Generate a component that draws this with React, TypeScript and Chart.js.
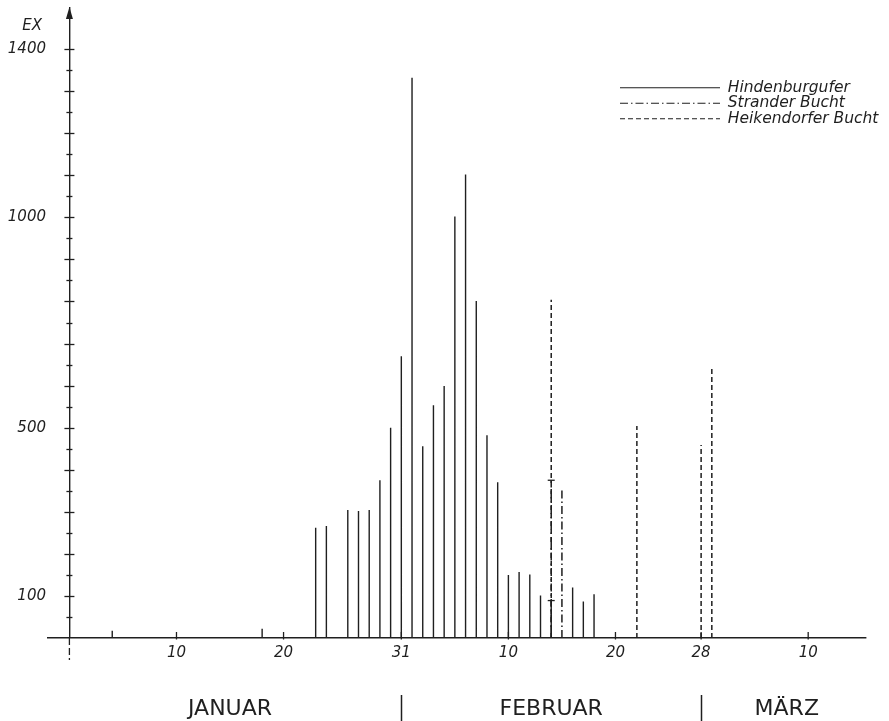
import React, { useEffect, useRef } from "react";
import { Chart, registerables } from "chart.js";

Chart.register(...registerables);

// ---- data (day number counted from 1 January) ----
const hindenburgDays = [4, 18, 23, 24, 26, 27, 28, 29, 30, 31, 32, 33, 34, 35, 36, 37, 38, 39, 40, 41, 42, 43, 44, 45, 47, 48, 49];
const hindenburgValues = [17, 22, 262, 266, 304, 302, 304, 375, 500, 670, 1332, 456, 553, 599, 1002, 1102, 801, 482, 370, 150, 157, 151, 101, 89, 120, 87, 104];
const stranderDays = [45, 46];
const stranderValues = [375, 352];
const heikendorferDays = [45, 53, 59, 60];
const heikendorferValues = [804, 504, 459, 646];

const seriesNames = ["Hindenburgufer", "Strander Bucht", "Heikendorfer Bucht"];

// x axis tick positions (day numbers) and their labels
const xTickDays = [10, 20, 31, 41, 51, 59, 69];
const xTickLabels = ["10", "20", "31", "10", "20", "28", "10"];
// months
const monthNames = ["JANUAR", "FEBRUAR", "MÄRZ"];
const monthCenters = [15, 45, 67];
const monthEnds = [31, 59];
// y axis
const yLabelValues = [100, 500, 1000, 1400];
const yTickStep = 50;
const yTickMax = 1400;
const yTitle = "EX";

const INK = "#1f1f1f";
const FONT = '"DejaVu Sans", "Liberation Sans", sans-serif';

function spikes(days: number[], values: number[]) {
  const out: { x: number; y: number | null }[] = [];
  days.forEach((d, i) => {
    out.push({ x: d, y: 0 }, { x: d, y: values[i] }, { x: d, y: null });
  });
  return out;
}

function overlapMarks() {
  const marks: { x: number; y: number }[] = [];
  hindenburgDays.forEach((d, i) => {
    if (stranderDays.includes(d) || heikendorferDays.includes(d)) marks.push({ x: d, y: hindenburgValues[i] });
  });
  stranderDays.forEach((d, i) => {
    if (heikendorferDays.includes(d)) marks.push({ x: d, y: stranderValues[i] });
  });
  return marks;
}

const decorPlugin = {
  id: "decor",
  afterLayout(chart: any) {
    const lg = chart.legend;
    const ca = chart.chartArea;
    if (lg && ca) {
      const w = lg.width;
      lg.left = ca.right - 246;
      lg.right = lg.left + w;
      lg.top = ca.top + 73;
    }
  },
  afterDraw(chart: any) {
    const { ctx, scales } = chart;
    const x = scales.x;
    const y = scales.y;
    const x0 = x.getPixelForValue(0);
    const yb = y.getPixelForValue(0);
    const ytop = chart.chartArea.top;
    ctx.save();
    ctx.strokeStyle = INK;
    ctx.fillStyle = INK;
    ctx.lineWidth = 1.3;
    // arrow head
    ctx.beginPath();
    ctx.moveTo(x0, ytop);
    ctx.lineTo(x0 - 3.5, ytop + 12);
    ctx.lineTo(x0 + 3.5, ytop + 12);
    ctx.closePath();
    ctx.fill();
    // y tick marks crossing the axis
    y.ticks.forEach((t: any) => {
      if (t.value <= 0) return;
      const py = Math.round(y.getPixelForValue(t.value)) + 0.5;
      const h = t.value % 100 === 0 ? 5 : 3;
      ctx.beginPath();
      ctx.moveTo(x0 - h, py);
      ctx.lineTo(x0 + h, py);
      ctx.stroke();
    });
    // x tick marks
    x.ticks.forEach((t: any) => {
      if (t.value === 0) return;
      const px = x.getPixelForValue(t.value);
      ctx.beginPath();
      ctx.moveTo(px, yb - 6);
      ctx.lineTo(px, yb + 1.5);
      ctx.stroke();
    });
    // dashed extension of the y axis below the origin
    ctx.setLineDash([7, 3]);
    ctx.beginPath();
    ctx.moveTo(x0, yb);
    ctx.lineTo(x0, yb + 22);
    ctx.stroke();
    ctx.setLineDash([]);
    // axis title
    ctx.font = `italic 300 15px ${FONT}`;
    ctx.textAlign = "right";
    ctx.textBaseline = "middle";
    ctx.fillText(yTitle, chart.chartArea.left - 6, ytop + 19);
    ctx.restore();
  },
};

export default function App() {
  const ref = useRef<HTMLCanvasElement | null>(null);

  useEffect(() => {
    if (!ref.current) return;
    const tickFont = { family: FONT, size: 15, style: "italic" as const, weight: "300" as any };
    const chart = new Chart(ref.current, {
      type: "line",
      data: {
        datasets: [
          {
            label: seriesNames[0],
            data: spikes(hindenburgDays, hindenburgValues) as any,
            borderColor: INK,
            backgroundColor: "rgba(0,0,0,0)",
            borderWidth: 1.4,
            borderDash: [],
            pointRadius: 0,
            spanGaps: false,
          },
          {
            label: seriesNames[1],
            data: spikes(stranderDays, stranderValues) as any,
            borderColor: INK,
            backgroundColor: "rgba(0,0,0,0)",
            borderWidth: 1.5,
            borderDash: [8, 3, 1.5, 3],
            pointRadius: 0,
            spanGaps: false,
          },
          {
            label: seriesNames[2],
            data: spikes(heikendorferDays, heikendorferValues) as any,
            borderColor: INK,
            backgroundColor: "rgba(0,0,0,0)",
            borderWidth: 1.5,
            borderDash: [5, 3],
            pointRadius: 0,
            spanGaps: false,
          },
          {
            label: "",
            type: "scatter" as any,
            data: overlapMarks() as any,
            borderColor: INK,
            backgroundColor: INK,
            borderWidth: 1.3,
            pointStyle: "line",
            pointRadius: 3.5,
            showLine: false,
          } as any,
        ],
      },
      options: {
        responsive: false,
        devicePixelRatio: 1,
        animation: false,
        events: [],
        layout: { padding: { left: 8, right: 23, top: 7, bottom: 0 } },
        plugins: {
          tooltip: { enabled: false },
          legend: {
            position: "chartArea" as any,
            align: "start",
            labels: {
              usePointStyle: true,
              pointStyle: "line",
              pointStyleWidth: 100,
              padding: 0,
              color: INK,
              font: { family: FONT, size: 15.5, style: "italic", weight: "300" as any },
              filter: (item: any) => !!item.text,
              generateLabels: (chart: any) => {
                const base = (Chart.defaults as any).plugins.legend.labels.generateLabels(chart);
                return base.map((item: any) => {
                  const ds: any = chart.data.datasets[item.datasetIndex];
                  return {
                    ...item,
                    lineDash: ds.borderDash || [],
                    lineWidth: 1.2,
                    strokeStyle: ds.borderColor,
                    fillStyle: "rgba(0,0,0,0)",
                    pointStyle: "line",
                  };
                });
              },
            },
          },
        },
        scales: {
          x: {
            type: "linear",
            position: "bottom",
            weight: 0,
            min: -2,
            max: 74.4,
            afterBuildTicks: (s: any) => {
              s.ticks = [0, ...xTickDays].map((v) => ({ value: v }));
            },
            afterFit: (s: any) => {
              s.height = 57;
              s.paddingLeft = 0;
              s.paddingRight = 0;
            },
            grid: {
              drawOnChartArea: true,
              drawTicks: false,
              lineWidth: 1.4,
              color: (c: any) => (c.tick && c.tick.value === 0 ? INK : "rgba(0,0,0,0)"),
            },
            border: { display: true, color: INK, width: 1.4 },
            ticks: {
              autoSkip: false,
              maxRotation: 0,
              padding: 6,
              color: INK,
              font: tickFont,
              callback: (v: any) => {
                const i = xTickDays.indexOf(Number(v));
                return i >= 0 ? xTickLabels[i] : "";
              },
            },
          },
          x2: {
            type: "linear",
            position: "bottom",
            weight: 1,
            min: -2,
            max: 74.4,
            afterBuildTicks: (s: any) => {
              s.ticks = [...monthCenters, ...monthEnds].sort((a, b) => a - b).map((v) => ({ value: v }));
            },
            afterFit: (s: any) => {
              s.height = 26;
              s.paddingLeft = 0;
              s.paddingRight = 0;
            },
            border: { display: false },
            grid: {
              drawOnChartArea: false,
              drawTicks: true,
              tickLength: 26,
              tickWidth: 1.5,
              color: "rgba(0,0,0,0)",
              tickColor: (c: any) => (c.tick && monthEnds.includes(c.tick.value) ? INK : "rgba(0,0,0,0)"),
            },
            ticks: {
              autoSkip: false,
              maxRotation: 0,
              padding: -25,
              color: INK,
              font: { family: FONT, size: 22, weight: "normal" as any },
              callback: (v: any) => {
                const i = monthCenters.indexOf(Number(v));
                return i >= 0 ? monthNames[i] : "";
              },
            },
          },
          y: {
            type: "linear",
            position: "left",
            min: 0,
            max: 1500,
            afterBuildTicks: (s: any) => {
              const t: { value: number }[] = [];
              for (let v = 0; v <= yTickMax; v += yTickStep) t.push({ value: v });
              s.ticks = t;
            },
            afterFit: (s: any) => {
              s.width = 40;
              s.paddingTop = 0;
              s.paddingBottom = 0;
            },
            grid: { display: false, drawTicks: false },
            border: { display: false },
            ticks: {
              autoSkip: false,
              padding: 2,
              color: INK,
              font: tickFont,
              callback: (v: any) => (yLabelValues.includes(Number(v)) ? String(v) : ""),
            },
          },
        },
      },
      plugins: [decorPlugin],
    });
    return () => chart.destroy();
  }, []);

  return (
    <div style={{ position: "absolute", left: 0, top: 0, width: 889, height: 721, background: "#fff" }}>
      <canvas ref={ref} width={889} height={721} style={{ display: "block" }} />
    </div>
  );
}
